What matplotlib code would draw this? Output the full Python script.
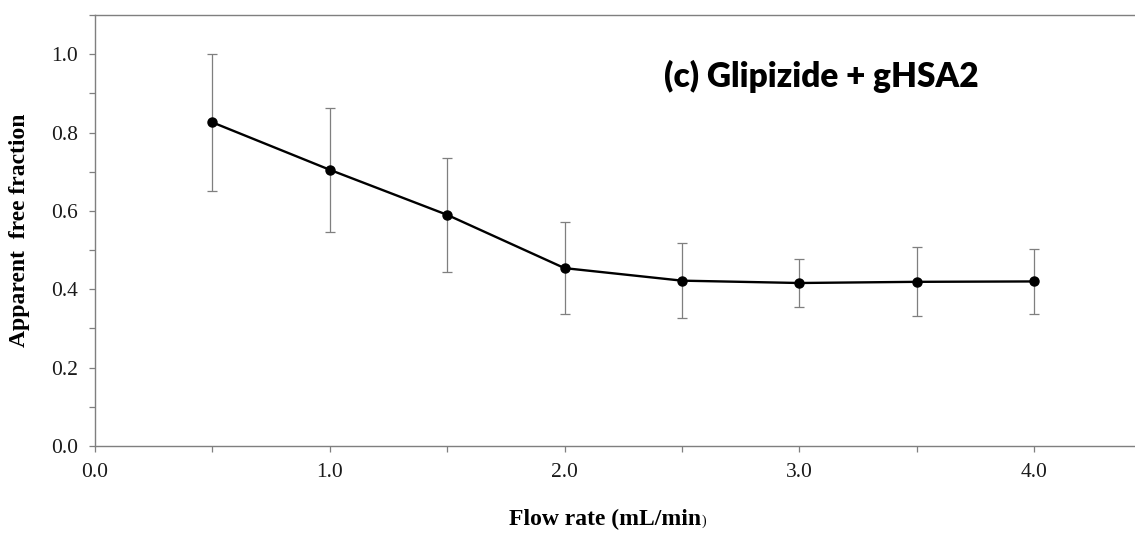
import matplotlib
matplotlib.use("Agg")
import matplotlib.pyplot as plt
from matplotlib.ticker import MultipleLocator, FormatStrFormatter

# data
flow_rate = [0.5, 1.0, 1.5, 2.0, 2.5, 3.0, 3.5, 4.0]
free_fraction = [0.826, 0.705, 0.590, 0.454, 0.422, 0.416, 0.419, 0.420]
sd = [0.175, 0.158, 0.146, 0.118, 0.095, 0.062, 0.088, 0.083]
panel_label = "(c) Glipizide + gHSA2"

W, H = 1135, 533
fig = plt.figure(figsize=(W / 100, H / 100), dpi=100)
ax = fig.add_axes([95 / W, 87 / H, 1 - 95 / W, 431 / H])

serif = ["Liberation Serif", "DejaVu Serif"]
grey = "#7f7f7f"

ax.errorbar(flow_rate, free_fraction, yerr=sd, fmt="none", ecolor=grey,
            elinewidth=0.9, capsize=3.5, capthick=0.9, zorder=2)
ax.plot(flow_rate, free_fraction, color="black", lw=1.7, marker="o",
        markersize=6.5, zorder=3)

ax.set_xlim(0, (W - 95) / 234.75)
ax.set_ylim(0, 1.1)
ax.xaxis.set_major_locator(MultipleLocator(1.0))
ax.xaxis.set_minor_locator(MultipleLocator(0.5))
ax.yaxis.set_major_locator(MultipleLocator(0.2))
ax.yaxis.set_minor_locator(MultipleLocator(0.1))
ax.xaxis.set_major_formatter(FormatStrFormatter("%.1f"))
ax.yaxis.set_major_formatter(FormatStrFormatter("%.1f"))

for s in ["left", "bottom", "top"]:
    ax.spines[s].set_color(grey)
    ax.spines[s].set_linewidth(1.0)
ax.spines["right"].set_visible(False)

ax.tick_params(which="both", direction="out", length=4.5, width=0.9, color=grey,
               top=False, right=False)
ax.tick_params(axis="y", which="major", pad=8)
ax.tick_params(axis="x", which="major", pad=8)
for lab in ax.get_xticklabels() + ax.get_yticklabels():
    lab.set_family(serif)
    lab.set_fontsize(15.5)
    lab.set_color("#1a1a1a")

# axis titles
fig.text(20 / W, 1 - 230 / H, "Apparent  free fraction", rotation=90, ha="center",
         va="center", family=serif, fontweight="bold", fontsize=17)
xl = fig.text(605 / W, 1 - 519 / H, "Flow rate (mL/min", ha="center", va="center",
              family=serif, fontweight="bold", fontsize=17)
ax.annotate(")", xy=(1, 0.08), xycoords=xl, ha="left", va="bottom",
            family=serif, fontsize=10)

ax.text(3.093, 0.944, panel_label, ha="center", va="center",
        family=["Lato", "DejaVu Sans"], fontweight="heavy", fontsize=24)

fig.savefig("out.png", dpi=100)
